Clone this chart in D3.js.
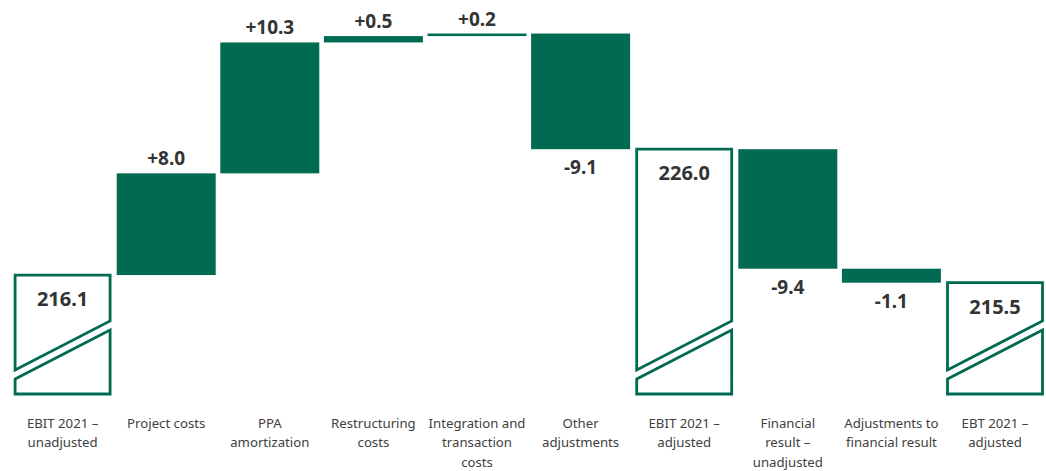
<!DOCTYPE html>
<html>
<head>
<meta charset="utf-8">
<script src="https://cdn.jsdelivr.net/npm/d3@7"></script>
<style>
  html, body { margin: 0; padding: 0; background: #ffffff; }
  svg { display: block; }
</style>
</head>
<body>
<svg id="chart" width="1046" height="471"></svg>
<script>
// Bridge from unadjusted EBIT 2021 to adjusted EBT 2021 (EUR m)
const categories = [
  "EBIT 2021 –\nunadjusted",
  "Project costs",
  "PPA\namortization",
  "Restructuring\ncosts",
  "Integration and\ntransaction\ncosts",
  "Other\nadjustments",
  "EBIT 2021 –\nadjusted",
  "Financial\nresult –\nunadjusted",
  "Adjustments to\nfinancial result",
  "EBT 2021 –\nadjusted"
];
const kinds = ["total", "delta", "delta", "delta", "delta", "delta", "total", "delta", "delta", "total"];
const values = [216.1, 8.0, 10.3, 0.5, 0.2, -9.1, 226.0, -9.4, -1.1, 215.5];
const valueLabels = ["216.1", "+8.0", "+10.3", "+0.5", "+0.2", "-9.1", "226.0", "-9.4", "-1.1", "215.5"];

const GREEN = "#006b50";
const TEXT = "#333333";
const svg = d3.select("#chart");

// running start/end of each step
let running = 0;
const steps = values.map((v, i) => {
  if (kinds[i] === "total") {
    running = v;
    return { i, kind: "total", start: v, end: v };
  }
  const s = running;
  running = s + v;
  return { i, kind: "delta", start: s, end: running, value: v };
});

const x = d3.scaleBand()
  .domain(d3.range(categories.length))
  .range([13.1, 1044.5])
  .paddingInner(0.0444)
  .paddingOuter(0);

const y = d3.scaleLinear()
  .domain([210, 236])
  .range([352.6, 22.1]);

// total columns are drawn as outlined boxes cut by a diagonal axis break
const boxBottom = 394;
const breakLeft = 370, breakRight = 321, breakGap = 9;
const inset = 2;

const totals = steps.filter(d => d.kind === "total");
const deltas = steps.filter(d => d.kind === "delta");

const tg = svg.append("g").attr("class", "totals");
totals.forEach(d => {
  const L = x(d.i) + inset, R = x(d.i) + x.bandwidth() - inset;
  const top = y(d.end);
  const upper = [[L, top], [R, top], [R, breakRight], [L, breakLeft]];
  const lower = [[L, breakLeft + breakGap], [R, breakRight + breakGap], [R, boxBottom], [L, boxBottom]];
  [upper, lower].forEach(pts => {
    tg.append("path")
      .attr("d", d3.line()(pts) + "Z")
      .attr("fill", "#ffffff")
      .attr("stroke", GREEN)
      .attr("stroke-width", 2.8)
      .attr("stroke-linejoin", "miter");
  });
  tg.append("text")
    .attr("x", x(d.i) + x.bandwidth() / 2)
    .attr("y", top + 31)
    .attr("text-anchor", "middle")
    .attr("font-family", "'Noto Sans', 'Open Sans', sans-serif")
    .attr("font-weight", 700)
    .attr("font-size", 20)
    .attr("fill", TEXT)
    .text(valueLabels[d.i]);
});

// change bars
svg.append("g").attr("class", "deltas")
  .selectAll("rect")
  .data(deltas)
  .join("rect")
  .attr("x", d => x(d.i))
  .attr("width", x.bandwidth())
  .attr("y", d => y(Math.max(d.start, d.end)))
  .attr("height", d => Math.abs(y(d.start) - y(d.end)))
  .attr("fill", GREEN);

svg.append("g").attr("class", "delta-labels")
  .selectAll("text")
  .data(deltas)
  .join("text")
  .attr("x", d => x(d.i) + x.bandwidth() / 2)
  .attr("y", d => d.value >= 0 ? y(d.end) - 8 : y(d.end) + 25)
  .attr("text-anchor", "middle")
  .attr("font-family", "'Noto Sans', 'Open Sans', sans-serif")
  .attr("font-weight", 700)
  .attr("font-size", 19)
  .attr("fill", TEXT)
  .text(d => valueLabels[d.i]);

// category axis labels
const xAxis = svg.append("g").attr("class", "x-axis")
  .attr("transform", "translate(0,427.5)")
  .call(d3.axisBottom(x).tickSize(0).tickPadding(0).tickFormat(""));
xAxis.select(".domain").remove();

xAxis.selectAll(".tick").each(function(i) {
  const t = d3.select(this).append("text")
    .attr("text-anchor", "middle")
    .attr("font-family", "'Noto Sans', 'Open Sans', sans-serif")
    .attr("font-size", 13.2)
    .attr("fill", "#404040");
  categories[i].split("\n").forEach((line, k) => {
    t.append("tspan").attr("x", 0).attr("y", k * 19.5).text(line);
  });
});
</script>
</body>
</html>
